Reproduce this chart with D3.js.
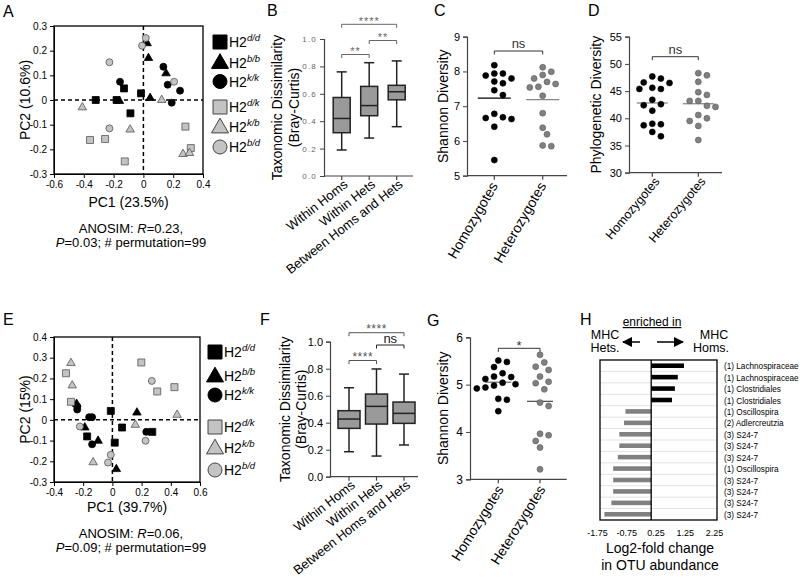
<!DOCTYPE html>
<html>
<head>
<meta charset="utf-8">
<script src="https://cdn.jsdelivr.net/npm/d3@7"></script>
<style>
  body { margin: 0; background: #fff; }
  svg { display: block; }
  text { font-family: "Liberation Sans", Arial, sans-serif; }
</style>
</head>
<body>
<svg id="fig" width="800" height="588"></svg>
<script>
// ---- data ----

// PCoA points: [genotype, PC1, PC2]
const pcaA = [
  ['d/d', -0.32, 0.0], ['d/d', -0.13, 0.047], ['d/d', -0.18, 0.0], ['d/d', -0.016, 0.027], ['d/d', -0.087, -0.054],
  ['b/b', 0.025, 0.23], ['b/b', 0.034, 0.17], ['b/b', 0.152, 0.108], ['b/b', 0.045, 0.008], ['b/b', -0.161, -0.004],
  ['k/k', -0.157, 0.074], ['k/k', 0.134, 0.135], ['k/k', 0.163, 0.062], ['k/k', 0.246, 0.038], ['k/k', 0.19, -0.011],
  ['d/k', 0.282, -0.108], ['d/k', 0.318, -0.195], ['d/k', -0.358, -0.162], ['d/k', -0.257, -0.158], ['d/k', -0.125, -0.249],
  ['k/b', -0.41, -0.03], ['k/b', -0.089, -0.12], ['k/b', 0.123, 0.0], ['k/b', 0.266, -0.219], ['k/b', 0.309, -0.215],
  ['b/d', 0.016, 0.251], ['b/d', -0.009, 0.22], ['b/d', -0.228, 0.153], ['b/d', 0.206, 0.074], ['b/d', -0.228, -0.115]
];
const pcaE = [
  ['d/d', -0.011, 0.043], ['d/d', 0.066, -0.037], ['d/d', 0.016, -0.11], ['d/d', -0.173, -0.08], ['d/d', 0.273, -0.058],
  ['b/b', -0.245, 0.077], ['b/b', -0.189, -0.037], ['b/b', -0.098, -0.101], ['b/b', 0.168, 0.035], ['b/b', 0.027, -0.238],
  ['k/k', -0.241, 0.065], ['k/k', -0.241, 0.05], ['k/k', -0.159, 0.013], ['k/k', -0.139, 0.013], ['k/k', -0.139, -0.118], ['k/k', 0.232, -0.058],
  ['d/k', -0.318, 0.225], ['d/k', -0.284, 0.087], ['d/k', 0.198, 0.277], ['d/k', 0.307, 0.137], ['d/k', 0.425, 0.158],
  ['k/b', -0.284, 0.274], ['k/b', -0.275, 0.166], ['k/b', -0.132, -0.205], ['k/b', 0.157, -0.024], ['k/b', 0.443, 0.024],
  ['b/d', -0.223, -0.032], ['b/d', 0.27, 0.188], ['b/d', 0.227, -0.101], ['b/d', -0.011, -0.169], ['b/d', -0.03, -0.206]
];
const genotypes = ['d/d', 'b/b', 'k/k', 'd/k', 'k/b', 'b/d'];
const pcaTicksA_x = [-0.6, -0.4, -0.2, 0, 0.2, 0.4];
const pcaTicksA_y = [-0.3, -0.2, -0.1, 0, 0.1, 0.2, 0.3];
const pcaTicksE_x = [-0.4, -0.2, 0, 0.2, 0.4, 0.6];
const pcaTicksE_y = [-0.3, -0.2, -0.1, 0, 0.1, 0.2, 0.3, 0.4];

// box plots: [min, q1, median, q3, max]
const boxCats = ['Within Homs', 'Within Hets', 'Between Homs and Hets'];
const boxB = [[0.19, 0.316, 0.42, 0.573, 0.76], [0.277, 0.44, 0.514, 0.654, 0.827], [0.36, 0.556, 0.615, 0.662, 0.84]];
const boxF = [[0.185, 0.358, 0.427, 0.489, 0.659], [0.153, 0.39, 0.521, 0.612, 0.798], [0.235, 0.395, 0.469, 0.553, 0.76]];
const boxTicks = [0, 0.2, 0.4, 0.6, 0.8, 1.0];

// dot plots
const dotCats = ['Homozygotes', 'Heterozygotes'];
const shannonC_hom = [8.18, 7.94, 7.94, 7.88, 7.80, 7.66, 7.71, 7.46, 7.32, 6.78, 6.63, 6.66, 6.68, 6.41, 5.45];
const shannonC_het = [8.12, 7.99, 7.90, 7.80, 7.70, 7.64, 7.54, 7.56, 7.30, 6.80, 6.38, 6.19, 5.85, 5.87];
const pdD_hom = [47.7, 47.3, 46.6, 46.5, 45.6, 45.4, 45.4, 43.4, 42.4, 42.6, 41.4, 38.9, 38.7, 39.0, 37.5, 36.7];
const pdD_het = [47.9, 48.3, 46.7, 44.3, 44.8, 43.2, 43.2, 42.3, 42.1, 39.5, 40.6, 40.0, 38.6, 36.0];
const shannonG_hom = [5.51, 5.48, 5.37, 5.24, 5.16, 5.12, 5.17, 5.04, 4.98, 4.94, 4.92, 5.01, 4.70, 4.68, 4.44];
const shannonG_het = [5.63, 5.47, 5.38, 5.31, 5.17, 5.06, 5.03, 4.90, 4.62, 4.55, 3.93, 3.96, 3.81, 3.67, 3.21];

// log2 fold change of OTUs
const otuLabels = ['(1) Lachnospiraceae', '(1) Lachnospiraceae', '(1) Clostridiales', '(1) Clostridiales',
  '(1) Oscillospira', '(2) Adlercreutzia', '(3) S24-7', '(3) S24-7', '(3) S24-7', '(1) Oscillospira',
  '(3) S24-7', '(3) S24-7', '(3) S24-7', '(3) S24-7'];
const otuLfc = [1.12, 0.91, 0.81, 0.71, -0.88, -0.93, -1.09, -1.09, -1.14, -1.30, -1.30, -1.30, -1.36, -1.60];
const otuTicks = [-1.75, -0.75, 0.25, 1.25, 2.25];

// ---- drawing ----
const svg = d3.select('#fig');
svg.append('rect').attr('width', 800).attr('height', 588).attr('fill', '#fff');

const FONT = '"Liberation Sans", Arial, sans-serif';
const SERIF = '"Liberation Serif", "Times New Roman", serif';
const GRAY = '#c3c3c3';

const shapeOf = { 'd/d': 'square', 'b/b': 'triangle', 'k/k': 'circle', 'd/k': 'square', 'k/b': 'triangle', 'b/d': 'circle' };
const isHom = g => g[0] === g[2];

function sym(shape, px) {
  if (shape === 'square') return d3.symbol(d3.symbolSquare, px * px)();
  if (shape === 'circle') return d3.symbol(d3.symbolCircle, Math.PI * px * px / 4)();
  return d3.symbol(d3.symbolTriangle, Math.sqrt(3) / 4 * px * px)();
}

function panelLetter(t, x, y) {
  svg.append('text').attr('x', x).attr('y', y).text(t)
    .attr('font-size', 16).attr('fill', '#000');
}

function styleAxis(sel, size, color) {
  sel.attr('font-family', FONT).attr('font-size', size);
  sel.selectAll('text').attr('fill', color || '#000');
  sel.selectAll('path, line').attr('stroke', color || '#000');
}

// rotated y title, one entry per line, xs = baseline x of each line
function yLabel(lines, xs, yc, size) {
  lines.forEach((l, i) => {
    svg.append('text')
      .attr('transform', `translate(${xs[i]},${yc}) rotate(-90)`)
      .attr('text-anchor', 'middle').attr('font-size', size).text(l);
  });
}

function pcaPanel(cfg) {
  const x = d3.scaleLinear().domain(cfg.xDom).range(cfg.xr);
  const y = d3.scaleLinear().domain(cfg.yDom).range(cfg.yr);
  const g = svg.append('g');
  const fmt = d => d === 0 ? '0' : d.toFixed(1);

  const ax = g.append('g').attr('transform', `translate(0,${cfg.yr[0]})`)
    .call(d3.axisBottom(x).tickValues(cfg.xTicks).tickFormat(fmt).tickSize(4).tickPadding(3));
  styleAxis(ax, 10);
  const ay = g.append('g').attr('transform', `translate(${cfg.xr[0]},0)`)
    .call(d3.axisLeft(y).tickValues(cfg.yTicks).tickFormat(fmt).tickSize(4).tickPadding(3));
  styleAxis(ay, 10);

  g.append('rect')
    .attr('x', cfg.xr[0]).attr('y', cfg.yr[1])
    .attr('width', cfg.xr[1] - cfg.xr[0]).attr('height', cfg.yr[0] - cfg.yr[1])
    .attr('fill', 'none').attr('stroke', '#000').attr('stroke-width', 1.3);

  g.append('line').attr('x1', x(0)).attr('x2', x(0)).attr('y1', cfg.yr[1]).attr('y2', cfg.yr[0])
    .attr('stroke', '#000').attr('stroke-width', 1.5).attr('stroke-dasharray', '4,3');
  g.append('line').attr('x1', cfg.xr[0]).attr('x2', cfg.xr[1]).attr('y1', y(0)).attr('y2', y(0))
    .attr('stroke', '#000').attr('stroke-width', 1.5).attr('stroke-dasharray', '4,3');

  g.selectAll('path.pt').data(cfg.data).enter().append('path')
    .attr('class', 'pt')
    .attr('d', d => sym(shapeOf[d[0]], shapeOf[d[0]] === 'triangle' ? 8.5 : 7))
    .attr('transform', d => `translate(${x(d[1])},${y(d[2])})`)
    .attr('fill', d => isHom(d[0]) ? '#000' : GRAY)
    .attr('stroke', d => isHom(d[0]) ? '#000' : '#555')
    .attr('stroke-width', 0.8);

  // legend
  const lg = g.append('g');
  genotypes.forEach((gt, i) => {
    const yy = cfg.legendY[i];
    lg.append('path')
      .attr('d', sym(shapeOf[gt], shapeOf[gt] === 'triangle' ? 17 : 14))
      .attr('transform', `translate(${cfg.legendX},${yy + (shapeOf[gt] === 'triangle' ? 1 : 0)})`)
      .attr('fill', isHom(gt) ? '#000' : GRAY)
      .attr('stroke', isHom(gt) ? '#000' : '#444').attr('stroke-width', 1);
    const t = lg.append('text').attr('x', cfg.legendX + 9).attr('y', yy + 5).attr('font-size', 14);
    t.append('tspan').text('H2');
    t.append('tspan').attr('font-size', 9.5).attr('font-style', 'italic').attr('dy', -6).text(gt);
  });

  yLabel([cfg.yTitle], [cfg.yTitleX], (cfg.yr[0] + cfg.yr[1]) / 2, 14);
  svg.append('text').attr('x', (cfg.xr[0] + cfg.xr[1]) / 2).attr('y', cfg.xTitleY)
    .attr('text-anchor', 'middle').attr('font-size', 14).text(cfg.xTitle);

  const a1 = svg.append('text').attr('x', cfg.noteX).attr('y', cfg.noteY).attr('text-anchor', 'middle').attr('font-size', 13);
  a1.append('tspan').text('ANOSIM: ');
  a1.append('tspan').attr('font-style', 'italic').text('R');
  a1.append('tspan').text('=' + cfg.R + ',');
  const a2 = svg.append('text').attr('x', cfg.noteX).attr('y', cfg.noteY + 14).attr('text-anchor', 'middle').attr('font-size', 13);
  a2.append('tspan').attr('font-style', 'italic').text('P');
  a2.append('tspan').text('=' + cfg.P + '; # permutation=99');
}

function bracket(x1, x2, y, label, opt) {
  const g = svg.append('g');
  g.append('path').attr('d', `M${x1},${y + 3.5}V${y}H${x2}V${y + 3.5}`)
    .attr('fill', 'none').attr('stroke', opt.color).attr('stroke-width', 1);
  g.append('text').attr('x', (x1 + x2) / 2).attr('y', y + opt.dy)
    .attr('text-anchor', 'middle').attr('font-size', opt.size)
    .attr('font-family', opt.family || FONT).attr('fill', opt.color)
    .attr('letter-spacing', opt.ls || 0).text(label);
}

function catAxis(x, cats, x0, x1, yAxis, lab) {
  const g = svg.append('g');
  g.append('line').attr('x1', x0).attr('x2', x1).attr('y1', yAxis).attr('y2', yAxis)
    .attr('stroke', '#444').attr('stroke-width', 1.2);
  cats.forEach(c => {
    g.append('line').attr('x1', x(c)).attr('x2', x(c)).attr('y1', yAxis).attr('y2', yAxis + 4)
      .attr('stroke', '#444').attr('stroke-width', 1.2);
    g.append('text')
      .attr('transform', `translate(${x(c) + lab.off[0]},${yAxis + lab.off[1]}) rotate(${lab.angle})`)
      .attr('text-anchor', 'end').attr('font-size', lab.size).text(c);
  });
}

function boxPanel(cfg) {
  const x = d3.scalePoint().domain(boxCats).range(cfg.catRange);
  const y = d3.scaleLinear().domain([0, 1]).range(cfg.yr);
  const ay = svg.append('g').attr('transform', `translate(${cfg.axisX},0)`)
    .call(d3.axisLeft(y).tickValues(boxTicks).tickFormat(d => d.toFixed(1)).tickSize(4).tickPadding(3));
  styleAxis(ay, cfg.tickSize, cfg.tickColor);
  ay.selectAll('text').attr('letter-spacing', cfg.tickLs);
  ay.select('.domain').attr('stroke', '#444').attr('stroke-width', 1.2);
  ay.selectAll('.tick line').attr('stroke', '#444');
  catAxis(x, boxCats, cfg.axisX, cfg.axisEnd, cfg.yr[0], { angle: -38, off: [7, 10], size: 13 });

  const w = cfg.boxW;
  const g = svg.append('g');
  boxCats.forEach((c, i) => {
    const s = cfg.stats[i];
    const cx = x(c);
    g.append('line').attr('x1', cx).attr('x2', cx).attr('y1', y(s[0])).attr('y2', y(s[4]))
      .attr('stroke', '#222').attr('stroke-width', 1.5);
    [s[0], s[4]].forEach(v => g.append('line').attr('x1', cx - 5).attr('x2', cx + 5)
      .attr('y1', y(v)).attr('y2', y(v)).attr('stroke', '#222').attr('stroke-width', 1.5));
    g.append('rect').attr('x', cx - w / 2).attr('y', y(s[3])).attr('width', w).attr('height', y(s[1]) - y(s[3]))
      .attr('fill', '#9a9a9a').attr('stroke', '#222').attr('stroke-width', 1.5);
    g.append('line').attr('x1', cx - w / 2).attr('x2', cx + w / 2).attr('y1', y(s[2])).attr('y2', y(s[2]))
      .attr('stroke', '#222').attr('stroke-width', 1.5);
  });
  yLabel(['Taxonomic Dissimilarity', '(Bray-Curtis)'], cfg.titleX, (cfg.yr[0] + cfg.yr[1]) / 2, 14);
  return x;
}

function swarm(vals, y, r, step) {
  const order = d3.range(vals.length).sort((a, b) => vals[b] - vals[a]);
  const placed = [];
  const off = new Array(vals.length);
  for (const i of order) {
    const py = y(vals[i]);
    for (let k = 0; k < 40; k++) {
      const cand = k === 0 ? 0 : (k % 2 ? 1 : -1) * Math.ceil(k / 2) * step;
      if (placed.every(p => (p.x - cand) ** 2 + (p.y - py) ** 2 >= (2 * r + 1.6) ** 2)) {
        off[i] = cand; placed.push({ x: cand, y: py }); break;
      }
    }
  }
  return off;
}

function dotPanel(cfg) {
  const x = d3.scalePoint().domain(dotCats).range(cfg.catRange);
  const y = d3.scaleLinear().domain(cfg.yDom).range(cfg.yr);
  const ay = svg.append('g').attr('transform', `translate(${cfg.axisX},0)`)
    .call(d3.axisLeft(y).tickValues(cfg.yTicks).tickFormat(d3.format('d')).tickSize(4).tickPadding(3));
  styleAxis(ay, cfg.tickFont);
  ay.select('.domain').attr('stroke', '#444').attr('stroke-width', 1.2);
  ay.selectAll('.tick line').attr('stroke', '#444');
  catAxis(x, dotCats, cfg.axisX, cfg.axisEnd, cfg.yr[0], cfg.lab);

  const r = 3;
  [cfg.hom, cfg.het].forEach((vals, gi) => {
    const cx = x(dotCats[gi]);
    const off = swarm(vals, y, r, 4.3);
    const g = svg.append('g');
    const m = d3.mean(vals);
    g.append('line').attr('x1', cx - cfg.meanW / 2).attr('x2', cx + cfg.meanW / 2)
      .attr('y1', y(m)).attr('y2', y(m))
      .attr('stroke', cfg.meanColor[gi]).attr('stroke-width', 1.3);
    g.selectAll('circle').data(vals).enter().append('circle')
      .attr('cx', (d, i) => cx + off[i]).attr('cy', d => y(d)).attr('r', r)
      .attr('fill', gi === 0 ? '#000' : '#808080')
      .attr('stroke', gi === 0 ? '#000' : '#5a5a5a').attr('stroke-width', 0.6);
  });
  yLabel([cfg.title], [cfg.titleX], (cfg.yr[0] + cfg.yr[1]) / 2, 14);
  return x;
}

// ---- panel A ----
panelLetter('A', 3, 17);
pcaPanel({
  data: pcaA, xDom: [-0.6, 0.4], yDom: [-0.3, 0.3], xr: [54, 203], yr: [174, 26],
  xTicks: pcaTicksA_x, yTicks: pcaTicksA_y,
  legendX: 220, legendY: [42, 62.5, 81.5, 107, 127, 147],
  yTitle: 'PC2 (10.6%)', yTitleX: 30, xTitle: 'PC1 (23.5%)', xTitleY: 207,
  noteX: 131, noteY: 233, R: '0.23', P: '0.03'
});

// ---- panel E ----
panelLetter('E', 3, 325);
pcaPanel({
  data: pcaE, xDom: [-0.4, 0.6], yDom: [-0.3, 0.4], xr: [54, 200], yr: [482, 337],
  xTicks: pcaTicksE_x, yTicks: pcaTicksE_y,
  legendX: 215, legendY: [352, 376, 395, 427, 448, 470],
  yTitle: 'PC2 (15%)', yTitleX: 30, xTitle: 'PC1 (39.7%)', xTitleY: 512,
  noteX: 131, noteY: 538, R: '0.06', P: '0.09'
});

// ---- panel B ----
panelLetter('B', 267, 16);
const xB = boxPanel({
  stats: boxB, catRange: [341.7, 396.7], yr: [176, 39], axisX: 324, axisEnd: 413,
  boxW: 17, tickSize: 8, tickColor: '#666', tickLs: 1.2, titleX: [282, 299]
});
const brB = { color: '#666', size: 11, dy: 0.5, ls: 1 };
bracket(xB(boxCats[0]), xB(boxCats[1]), 54.5, '**', brB);
bracket(xB(boxCats[1]), xB(boxCats[2]), 40.5, '**', brB);
bracket(xB(boxCats[0]), xB(boxCats[2]), 24.3, '****', brB);

// ---- panel F ----
panelLetter('F', 260, 325);
const xF = boxPanel({
  stats: boxF, catRange: [349, 404], yr: [476.7, 341.7], axisX: 330, axisEnd: 418,
  boxW: 22, tickSize: 11, tickColor: '#000', tickLs: 0, titleX: [290, 306]
});
const brF = { color: '#555', size: 12, dy: 0.5, ls: 0.5 };
bracket(xF(boxCats[0]), xF(boxCats[2]), 332.7, '****', brF);
bracket(xF(boxCats[1]), xF(boxCats[2]), 345, 'ns', { color: '#222', size: 13, dy: -2.5 });
bracket(xF(boxCats[0]), xF(boxCats[1]), 360.5, '****', brF);

// ---- panel C ----
panelLetter('C', 434, 16);
const xC = dotPanel({
  hom: shannonC_hom, het: shannonC_het, yDom: [5, 9], yTicks: [5, 6, 7, 8, 9],
  yr: [175.7, 36.7], catRange: [494.3, 542.7], axisX: 467, axisEnd: 567, tickFont: 11,
  lab: { angle: -60, off: [4, 10], size: 14 }, meanW: 33, meanColor: ['#000', '#888'],
  title: 'Shannon Diversity', titleX: 448
});
bracket(xC(dotCats[0]), xC(dotCats[1]), 51, 'ns', { color: '#333', size: 13, dy: -3, family: SERIF });

// ---- panel D ----
panelLetter('D', 588, 16);
const xD = dotPanel({
  hom: pdD_hom, het: pdD_het, yDom: [30, 55], yTicks: [30, 35, 40, 45, 50, 55],
  yr: [172.7, 36.7], catRange: [652.3, 698.3], axisX: 629, axisEnd: 722, tickFont: 11,
  lab: { angle: -50, off: [8, 9], size: 12.5 }, meanW: 31, meanColor: ['#888', '#888'],
  title: 'Phylogenetic Diversity', titleX: 601
});
bracket(xD(dotCats[0]), xD(dotCats[1]), 56.7, 'ns', { color: '#333', size: 13, dy: -3, family: SERIF });

// ---- panel G ----
panelLetter('G', 427, 326);
const xG = dotPanel({
  hom: shannonG_hom, het: shannonG_het, yDom: [3, 6], yTicks: [3, 4, 5, 6],
  yr: [479.3, 337.3], catRange: [498.3, 540], axisX: 470, axisEnd: 566.7, tickFont: 12,
  lab: { angle: -58, off: [6, 10], size: 14 }, meanW: 26, meanColor: ['#777', '#555'],
  title: 'Shannon Diversity', titleX: 448
});
bracket(xG(dotCats[0]), xG(dotCats[1]), 348.3, '*', { color: '#333', size: 13, dy: 1.5 });

// ---- panel H ----
panelLetter('H', 580, 325);
(function () {
  const x = d3.scaleLinear().domain([-1.75, 2.25]).range([600, 717]);
  const y = d3.scaleBand().domain(d3.range(otuLfc.length)).range([360, 520]).paddingInner(0.6).paddingOuter(0.3);
  const g = svg.append('g');
  const step = y.step();
  d3.range(1, otuLfc.length).forEach(i => {
    const yy = y(i) - step * y.paddingInner() / 2;
    g.append('line').attr('x1', 600).attr('x2', 717).attr('y1', yy).attr('y2', yy)
      .attr('stroke', '#e2e2e2').attr('stroke-width', 1);
  });
  g.selectAll('rect.bar').data(otuLfc).enter().append('rect').attr('class', 'bar')
    .attr('x', d => Math.min(x(0), x(d))).attr('width', d => Math.abs(x(d) - x(0)))
    .attr('y', (d, i) => y(i)).attr('height', y.bandwidth())
    .attr('fill', d => d > 0 ? '#000' : '#808080');
  g.append('line').attr('x1', x(0)).attr('x2', x(0)).attr('y1', 360).attr('y2', 520)
    .attr('stroke', '#000').attr('stroke-width', 1.3);
  g.append('rect').attr('x', 600).attr('y', 360).attr('width', 117).attr('height', 160)
    .attr('fill', 'none').attr('stroke', '#000').attr('stroke-width', 1.3);

  const ax = g.append('g').attr('transform', 'translate(-3,520)')
    .call(d3.axisBottom(x).tickValues(otuTicks).tickFormat(d => d.toFixed(2)).tickSize(0).tickPadding(10));
  styleAxis(ax, 9);
  ax.select('.domain').remove();

  otuLabels.forEach((l, i) => {
    g.append('text').attr('x', 724).attr('y', y(i) + y.bandwidth() / 2 + 3.5)
      .attr('font-size', 8.2).attr('font-family', FONT)
      .text(l);
  });

  g.append('text').attr('x', 660).attr('y', 553).attr('text-anchor', 'middle').attr('font-size', 14).text('Log2-fold change');
  g.append('text').attr('x', 660).attr('y', 570).attr('text-anchor', 'middle').attr('font-size', 14).text('in OTU abundance');

  g.append('text').attr('x', 652).attr('y', 326).attr('text-anchor', 'middle').attr('font-size', 12)
    .attr('text-decoration', 'underline').text('enriched in');
  [['MHC', 605, 339], ['Hets.', 605, 352], ['MHC', 714, 339], ['Homs.', 711, 352]].forEach(t => {
    g.append('text').attr('x', t[1]).attr('y', t[2]).attr('text-anchor', 'middle').attr('font-size', 12.5).text(t[0]);
  });
  const defs = svg.append('defs');
  defs.append('marker').attr('id', 'arr').attr('viewBox', '0 0 10 10').attr('refX', 9).attr('refY', 5)
    .attr('markerWidth', 7).attr('markerHeight', 7).attr('orient', 'auto')
    .append('path').attr('d', 'M0,0L10,5L0,10Z').attr('fill', '#000');
  g.append('line').attr('x1', 640).attr('x2', 623).attr('y1', 342).attr('y2', 342)
    .attr('stroke', '#000').attr('stroke-width', 1.5).attr('marker-end', 'url(#arr)');
  g.append('line').attr('x1', 657).attr('x2', 683).attr('y1', 342).attr('y2', 342)
    .attr('stroke', '#000').attr('stroke-width', 1.5).attr('marker-end', 'url(#arr)');
})();
</script>
</body>
</html>
